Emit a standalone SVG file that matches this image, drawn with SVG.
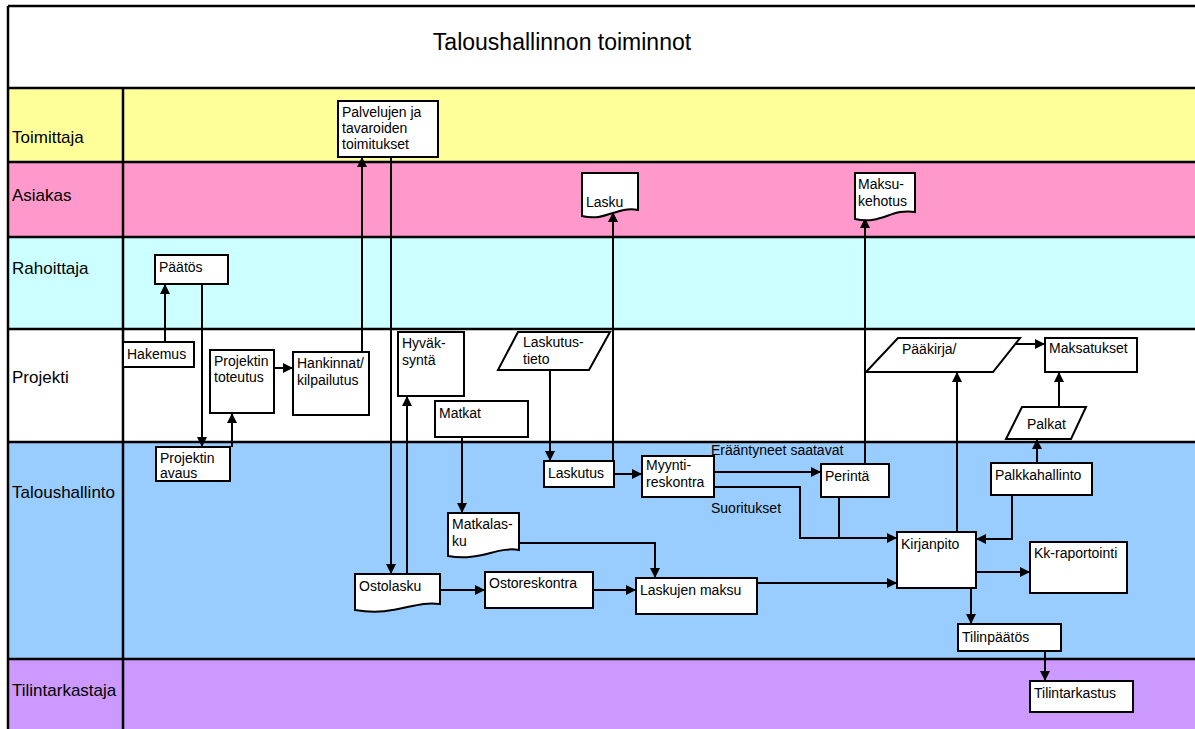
<svg xmlns="http://www.w3.org/2000/svg" width="1195" height="729" viewBox="0 0 1195 729">
<style>
.lane{stroke:none}
.ln{stroke:#000;stroke-width:2.5;fill:none}
.box{fill:#fff;stroke:#000;stroke-width:2}
.t{font-family:"Liberation Sans",Arial,sans-serif;font-size:14px;fill:#000}
.lt{font-family:"Liberation Sans",Arial,sans-serif;font-size:17px;fill:#000}
.title{font-family:"Liberation Sans",Arial,sans-serif;font-size:23px;fill:#000}
.c{stroke:#000;stroke-width:2;fill:none;marker-end:url(#ah)}
.cn{stroke:#000;stroke-width:2;fill:none}
</style>
<defs>
<marker id="ah" markerUnits="userSpaceOnUse" markerWidth="10" markerHeight="10" refX="10" refY="5" orient="auto">
<path d="M0,0 L10,5 L0,10 z" fill="#000"/>
</marker>
</defs>
<rect x="0" y="0" width="1195" height="729" fill="#fff"/>
<g id="lanes">
<rect class="lane" x="8" y="6" width="1187" height="82" fill="#fff"/>
<rect class="lane" x="8" y="88" width="1187" height="74" fill="#FFFF99"/>
<rect class="lane" x="8" y="162" width="1187" height="75" fill="#FF99CC"/>
<rect class="lane" x="8" y="237" width="1187" height="92" fill="#CCFFFF"/>
<rect class="lane" x="8" y="329" width="1187" height="113" fill="#FFFFFF"/>
<rect class="lane" x="8" y="442" width="1187" height="217" fill="#99CCFF"/>
<rect class="lane" x="8" y="659" width="1187" height="70" fill="#CC99FF"/>
<path class="ln" d="M8,6 H1195 M8,6 V729 M123,88 V729 M8,88 H1195 M8,162 H1195 M8,237 H1195 M8,329 H1195 M8,442 H1195 M8,659 H1195"/>
<text class="title" x="562" y="50" text-anchor="middle">Taloushallinnon toiminnot</text>
<text class="lt" x="12" y="143">Toimittaja</text>
<text class="lt" x="12" y="201">Asiakas</text>
<text class="lt" x="12" y="274">Rahoittaja</text>
<text class="lt" x="12" y="383">Projekti</text>
<text class="lt" x="12" y="498">Taloushallinto</text>
<text class="lt" x="12" y="696">Tilintarkastaja</text>
</g>
<g id="connectors">
<path class="c" d="M165,342 V284"/>
<path class="c" d="M202,284 V447"/>
<path class="c" d="M232,447 V413"/>
<path class="c" d="M274,368 H293"/>
<path class="c" d="M362,352 V157"/>
<path class="c" d="M391,157 V574"/>
<path class="c" d="M407,574 V396"/>
<path class="c" d="M462,437 V513"/>
<path class="c" d="M550,370 V461"/>
<path class="c" d="M613,461 V212"/>
<path class="c" d="M614,474 H642"/>
<path class="c" d="M714,472 H821"/>
<path class="c" d="M714,487 H800 V538 H897"/>
<path class="cn" d="M839,497 V538"/>
<path class="c" d="M865,464 V218"/>
<path class="c" d="M957,532 V372"/>
<path class="c" d="M1012,495 V539 H976"/>
<path class="c" d="M1037,463 V439"/>
<path class="c" d="M1059,407 V372"/>
<path class="c" d="M1015,344 H1045"/>
<path class="c" d="M976,572 H1030"/>
<path class="c" d="M971,588 V624"/>
<path class="c" d="M1045,651 V681"/>
<path class="c" d="M440,590 H485"/>
<path class="c" d="M593,590 H636"/>
<path class="c" d="M519,543 H655 V578"/>
<path class="c" d="M757,583 H897"/>
<text class="t" x="711" y="455">Erääntyneet saatavat</text>
<text class="t" x="711" y="513">Suoritukset</text>
</g>
<g id="palvelujen">
<rect class="box" x="338" y="101" width="100" height="56"/>
<text class="t" x="342" y="117">Palvelujen ja</text>
<text class="t" x="342" y="133">tavaroiden</text>
<text class="t" x="342" y="149">toimitukset</text>
</g>
<g id="lasku">
<path class="box" d="M582,173 H638 V210 C616,206 606,222 582,216 Z"/>
<text class="t" x="586" y="207">Lasku</text>
</g>
<g id="maksukehotus">
<path class="box" d="M855,173 H915 V212 C891,208 882,225 855,219 Z"/>
<text class="t" x="858" y="189">Maksu-</text>
<text class="t" x="858" y="206">kehotus</text>
</g>
<g id="paatos">
<rect class="box" x="155" y="255" width="73" height="29"/>
<text class="t" x="159" y="272">Päätös</text>
</g>
<g id="hakemus">
<rect class="box" x="123" y="342" width="71" height="25"/>
<text class="t" x="127" y="359">Hakemus</text>
</g>
<g id="projektin-toteutus">
<rect class="box" x="210" y="350" width="64" height="63"/>
<text class="t" x="214" y="366">Projektin</text>
<text class="t" x="214" y="382">toteutus</text>
</g>
<g id="hankinnat">
<rect class="box" x="293" y="352" width="76" height="63"/>
<text class="t" x="297" y="368">Hankinnat/</text>
<text class="t" x="297" y="385">kilpailutus</text>
</g>
<g id="hyvaksynta">
<rect class="box" x="398" y="332" width="66" height="64"/>
<text class="t" x="402" y="348">Hyväk-</text>
<text class="t" x="402" y="365">syntä</text>
</g>
<g id="matkat">
<rect class="box" x="435" y="401" width="93" height="36"/>
<text class="t" x="439" y="418">Matkat</text>
</g>
<g id="laskutustieto">
<path class="box" d="M518,332 H610 L589,370 H498 Z"/>
<text class="t" x="523" y="347">Laskutus-</text>
<text class="t" x="523" y="364">tieto</text>
</g>
<g id="paakirja">
<path class="box" d="M898,338 H1020 L993,372 H866 Z"/>
<text class="t" x="902" y="354">Pääkirja/</text>
</g>
<g id="maksatukset">
<rect class="box" x="1045" y="338" width="92" height="34"/>
<text class="t" x="1049" y="353">Maksatukset</text>
</g>
<g id="palkat">
<path class="box" d="M1022,407 H1086 L1071,439 H1006 Z"/>
<text class="t" x="1027" y="429">Palkat</text>
</g>
<g id="projektin-avaus">
<rect class="box" x="156" y="447" width="74" height="34"/>
<text class="t" x="160" y="463">Projektin</text>
<text class="t" x="160" y="478">avaus</text>
</g>
<g id="laskutus">
<rect class="box" x="544" y="461" width="70" height="26"/>
<text class="t" x="548" y="478">Laskutus</text>
</g>
<g id="myyntireskontra">
<rect class="box" x="642" y="456" width="72" height="41"/>
<text class="t" x="646" y="470">Myynti-</text>
<text class="t" x="646" y="487">reskontra</text>
</g>
<g id="perinta">
<rect class="box" x="821" y="464" width="68" height="33"/>
<text class="t" x="825" y="481">Perintä</text>
</g>
<g id="palkkahallinto">
<rect class="box" x="991" y="463" width="101" height="32"/>
<text class="t" x="995" y="480">Palkkahallinto</text>
</g>
<g id="matkalasku">
<path class="box" d="M448,513 H519 V550 C497,546 480,562 448,556 Z"/>
<text class="t" x="452" y="529">Matkalas-</text>
<text class="t" x="452" y="546">ku</text>
</g>
<g id="kirjanpito">
<rect class="box" x="897" y="532" width="79" height="56"/>
<text class="t" x="901" y="549">Kirjanpito</text>
</g>
<g id="kk-raportointi">
<rect class="box" x="1030" y="542" width="97" height="51"/>
<text class="t" x="1034" y="558">Kk-raportointi</text>
</g>
<g id="ostolasku">
<path class="box" d="M355,574 H440 V604 C414,600 395,617 355,610 Z"/>
<text class="t" x="359" y="591">Ostolasku</text>
</g>
<g id="ostoreskontra">
<rect class="box" x="485" y="572" width="108" height="36"/>
<text class="t" x="489" y="588">Ostoreskontra</text>
</g>
<g id="laskujen-maksu">
<rect class="box" x="636" y="578" width="121" height="36"/>
<text class="t" x="640" y="595">Laskujen maksu</text>
</g>
<g id="tilinpaatos">
<rect class="box" x="958" y="624" width="103" height="27"/>
<text class="t" x="962" y="642">Tilinpäätös</text>
</g>
<g id="tilintarkastus">
<rect class="box" x="1030" y="681" width="103" height="31"/>
<text class="t" x="1034" y="698">Tilintarkastus</text>
</g>
</svg>
